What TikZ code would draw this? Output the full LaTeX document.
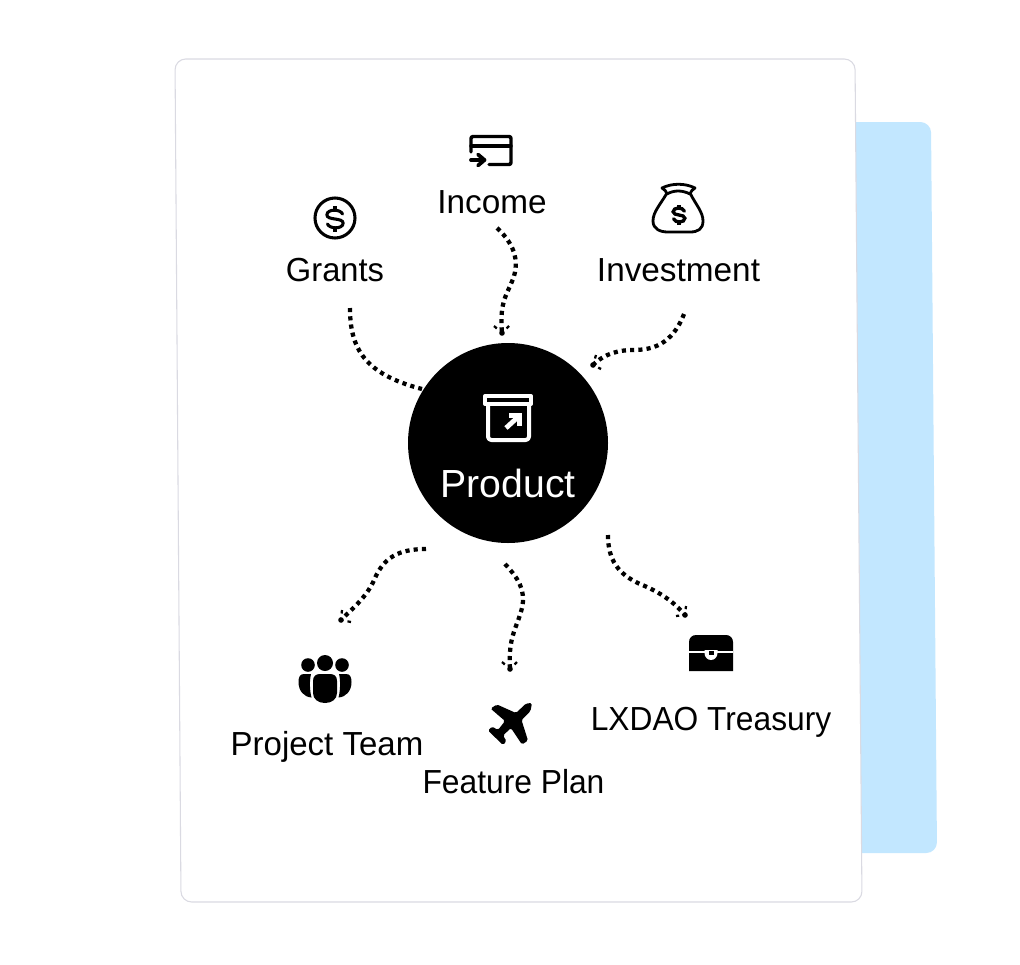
\documentclass[tikz,border=0pt]{standalone}
\usepackage{fontspec}
\usetikzlibrary{calc}
\setmainfont{Liberation Sans}
\definecolor{skyfill}{HTML}{C2E7FF}
\definecolor{cardline}{HTML}{DADAE2}
\tikzset{
  lbl/.style={font=\fontsize{25}{30}\selectfont,text=black,inner sep=0pt,anchor=base},
  flow/.style={draw=black,line width=3.2pt,dash pattern=on 3.1pt off 3.1pt},
  headside/.style={draw=black,line width=1.7pt},
  iconline/.style={draw=black,line width=2.6pt,line join=round,line cap=round},
  iconwhite/.style={draw=white,line width=3pt,line join=round},
}
\newcommand{\dollarmark}[5]{%
  \begin{scope}[shift={(#1,#2)},xscale=#3,yscale=#4]
    \draw[line width=#5,line cap=round,black] (0.42,-0.3) .. controls (0.3,-0.62) and (-0.45,-0.62) .. (-0.45,-0.25) .. controls (-0.45,0.1) and (0.45,-0.1) .. (0.45,0.25) .. controls (0.45,0.62) and (-0.3,0.62) .. (-0.42,0.3);
    \draw[line width=#5,line cap=butt,black] (0,-0.55) -- (0,-0.78) (0,0.55) -- (0,0.78);
  \end{scope}}
\begin{document}
\begin{tikzpicture}[x=0.75pt,y=-0.75pt]
\useasboundingbox (0,0) rectangle (1020,964);
% panels
\fill[skyfill,rounded corners=8pt] (830,122) -- (931,122) -- (937,853) -- (830,853) -- cycle;
\filldraw[fill=white,draw=cardline,line width=0.8pt,rounded corners=8pt] (175,59) -- (855,59) -- (862,902) -- (181,902) -- cycle;

% named connector ends
\coordinate (incS) at (497,228);   \coordinate (incT) at (502,333);
\coordinate (graS) at (350,308);   \coordinate (graT) at (422,389);
\coordinate (invS) at (684,314);   \coordinate (invT) at (593,365);
\coordinate (teaS) at (426,549);   \coordinate (teaT) at (341,620);
\coordinate (feaS) at (505,564);   \coordinate (feaT) at (510,669);
\coordinate (treS) at (608,535);   \coordinate (treT) at (685,615);

% connectors
\draw[flow] (incS) .. controls (510,240) and (520,256) .. (514,276) .. controls (508,294) and (499,300) .. (incT);
\draw[flow] (graS) .. controls (350,348) and (364,374) .. (graT);
\draw[flow] (invS) .. controls (672,345) and (652,350) .. (633,350) .. controls (620,350) and (605,353) .. (invT);
\draw[flow] (teaS) .. controls (398,549) and (384,558) .. (375,578) .. controls (367,597) and (353,608) .. (teaT);
\draw[flow] (feaS) .. controls (518,578) and (526,590) .. (522,608) .. controls (517,628) and (508,636) .. (feaT);
\draw[flow] (treS) .. controls (608,560) and (618,574) .. (640,584) .. controls (660,592) and (674,602) .. (treT);

% arrow heads
\coordinate (incA) at (494,326); \coordinate (incB) at (509,326);
\coordinate (invA) at (596,355); \coordinate (invB) at (601,369);
\coordinate (teaA) at (342,610); \coordinate (teaB) at (351,622);
\coordinate (feaA) at (502,662); \coordinate (feaB) at (517,662);
\coordinate (treA) at (686,606); \coordinate (treB) at (676,616);
\foreach \a/\t/\b in {incA/incT/incB,invA/invT/invB,teaA/teaT/teaB,feaA/feaT/feaB,treA/treT/treB}{
  \draw[headside] (\a) -- ($(\a)!.35!(\t)$);
  \draw[headside] (\b) -- ($(\b)!.35!(\t)$);
  \fill (\t) circle[radius=2.8];
}

% central node
\node[circle,fill=black,minimum size=150pt,inner sep=0pt] (prod) at (508,443) {};
\node[lbl,text=white,font=\fontsize{29.4}{34}\selectfont] (prodlbl) at (508,497) {Product};
% box icon
\draw[iconwhite] (485,396) rectangle (531,404);
\draw[iconwhite,rounded corners=2.5pt] (488,404) -- (488,440) -- (529,440) -- (529,404);
\draw[iconwhite,line width=3.6pt] (506,428) -- (518,417);
\draw[iconwhite,line width=3.4pt,line join=miter] (509,415.5) -- (519.5,415.5) -- (519.5,426);

% labels
\node[lbl] (income) at (492,213) {Income};
\node[lbl] (grants) at (335,281) {\scalebox{.98}[1]{Grants}};
\node[lbl] (invest) at (678.5,281) {Investment};
\node[lbl] (team) at (327,755) {\scalebox{.99}[1]{Project Team}};
\node[lbl] (feature) at (513.5,793) {\scalebox{.953}[1]{Feature Plan}};
\node[lbl] (treasury) at (711,730) {\scalebox{.952}[1]{LXDAO Treasury}};

% income icon
\draw[iconline,rounded corners=1.5pt] (471,152) -- (471,136.5) -- (511,136.5) -- (511,164.5) -- (489,164.5);
\draw[iconline] (471,146) -- (511,146);
\draw[iconline,line width=2.8pt] (471,160) -- (484,160);
\draw[iconline,line width=2.8pt] (478,154.5) -- (484.5,160) -- (478,165.5);

% grants icon
\node[circle,draw=black,line width=2.3pt,minimum size=30pt,inner sep=0pt] (grIcon) at (335,218) {};
\dollarmark{335}{219}{18}{16.5}{2.3pt}

% investment icon
\filldraw[fill=white,iconline,line width=2.1pt] (667,193) .. controls (660,205) and (653,212) .. (653,221) .. controls (653,229) and (660,232) .. (668,232) -- (690,232) .. controls (698,232) and (703,229) .. (703,221) .. controls (703,212) and (696,205) .. (690,193);
\filldraw[fill=white,iconline,line width=2.1pt] (662,188) .. controls (672,183) and (685,183) .. (695,188) .. controls (692,190) and (691,191) .. (690,194) .. controls (682,190) and (674,190) .. (667,194) .. controls (666,191) and (665,190) .. (662,188) -- cycle;
\dollarmark{679}{215}{13}{13}{2.5pt}

% team icon
\fill (308,665) circle[radius=6.8];
\fill (342,665) circle[radius=6.8];
\fill (325,663) circle[radius=8];
\fill (313,681) .. controls (313,676) and (316,674) .. (320,674) -- (330,674) .. controls (334,674) and (337,676) .. (337,681) -- (337,693) .. controls (337,699) and (332,703) .. (325,703) .. controls (318,703) and (313,699) .. (313,693) -- cycle;
\fill (311,674) -- (304,674) .. controls (300,674) and (298.5,677) .. (298.5,682) .. controls (298.5,691) and (304,697) .. (311.5,697.5) .. controls (309.5,690) and (309.5,680) .. (311,674) -- cycle;
\fill (339,674) -- (346,674) .. controls (350,674) and (351.5,677) .. (351.5,682) .. controls (351.5,691) and (346,697) .. (338.5,697.5) .. controls (340.5,690) and (340.5,680) .. (339,674) -- cycle;

% plane icon
\fill[rounded corners=1.2pt] (532,703) -- (526,703.5) -- (516,713) -- (497,704.5) -- (490.5,708.5) -- (505,721) -- (498,730) -- (492,726.5) -- (488,730.5) -- (503,745) -- (506.5,741) -- (503,735.5) -- (511,728) -- (522,744.5) -- (528,740.5) -- (521.5,720) -- (530.5,711) -- cycle;

% treasury icon
\fill (689,671) -- (689,642) .. controls (689,638) and (692,635) .. (696,635) -- (726,635) .. controls (730,635) and (733,638) .. (733,642) -- (733,671) -- cycle;
\draw[white,line width=1.2pt] (689,652) -- (733,652);
\fill[white] (704.5,650) -- (717.5,650) -- (717.5,653) .. controls (717.5,657) and (714.5,660) .. (711,660) .. controls (707.5,660) and (704.5,657) .. (704.5,653) -- cycle;
\fill (709,650.5) rectangle (713.5,655);
\end{tikzpicture}
\end{document}
